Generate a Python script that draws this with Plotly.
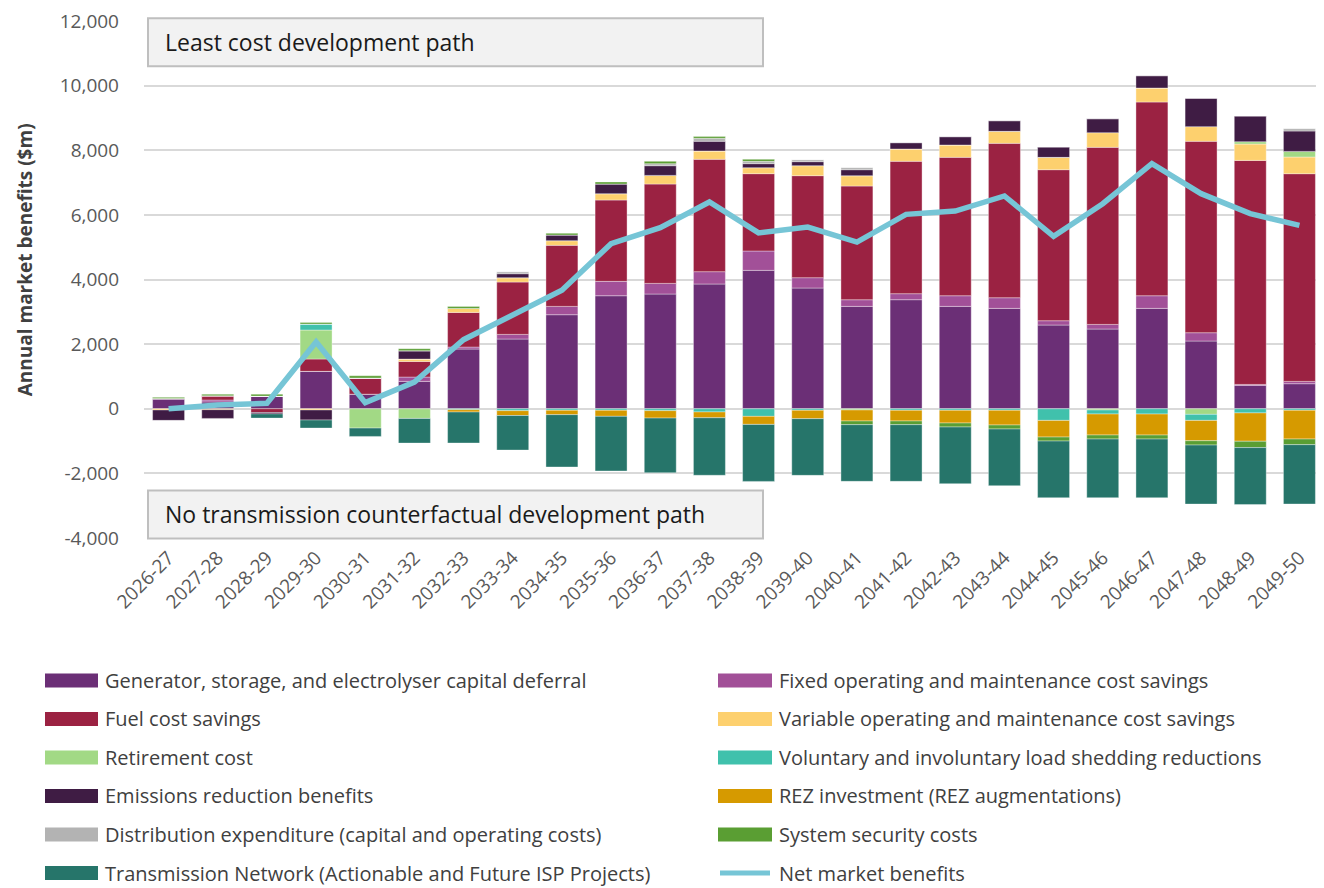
import plotly.graph_objects as go

categories = ["2026-27", "2027-28", "2028-29", "2029-30", "2030-31", "2031-32", "2032-33", "2033-34",
              "2034-35", "2035-36", "2036-37", "2037-38", "2038-39", "2039-40", "2040-41", "2041-42",
              "2042-43", "2043-44", "2044-45", "2045-46", "2046-47", "2047-48", "2048-49", "2049-50"]

generator_capex = [290, 210, 390, 1156, 450, 846, 1847, 2157, 2910, 3498, 3550, 3860,
                   4283, 3736, 3168, 3375, 3168, 3106, 2590, 2466, 3106, 2095, 722, 774]
fixed_om = [30, 60, 0, 0, 0, 134, 62, 144, 258, 444, 330, 382,
            599, 320, 206, 186, 330, 330, 134, 144, 392, 258, 30, 72]
fuel = [0, 130, -120, 382, 500, 485, 1073, 1620, 1889, 2518, 3075, 3478,
        2394, 3158, 3519, 4097, 4283, 4778, 4675, 5480, 5996, 5924, 6935, 6429]
variable_om = [-40, -30, 0, -40, 0, 72, 124, 134, 145, 196, 268, 258,
               186, 310, 320, 382, 382, 372, 382, 454, 433, 454, 506, 516]
retirement = [0, 0, 0, 898, -600, -300, 0, 0, 0, 0, 0, 0,
              0, 0, -40, 0, 0, 0, 0, -40, 0, -175, 72, 175]
load_shedding = [0, 0, 0, 186, 0, 0, -30, -60, -50, -50, -60, -100,
                 -237, -50, 0, -50, -50, -50, -361, -124, -165, -186, -130, -50]
emissions = [-320, -270, -40, -310, 0, 258, 0, 124, 175, 300, 300, 300,
             124, 124, 186, 196, 258, 330, 320, 433, 382, 877, 795, 630]
rez = [0, 0, 0, 0, 0, 0, -72, -150, -134, -186, -230, -180,
       -248, -258, -340, -330, -392, -454, -516, -650, -650, -630, -877, -888]
distribution = [0, 0, 0, 0, 0, 0, 0, 62, 0, 0, 62, 93,
                72, 62, 62, 0, 0, 0, 0, 0, 0, 0, 0, 72]
system_security = [40, 55, 60, 50, 70, 62, 62, 0, 52, 62, 72, 52,
                   62, 0, -114, -114, -124, -124, -124, -124, -124, -134, -196, -175]
transmission = [0, 0, -130, -248, -258, -764, -960, -1070, -1620, -1692, -1692, -1780,
                -1765, -1754, -1754, -1754, -1754, -1754, -1754, -1816, -1816, -1827, -1765, -1837]
net_benefits = [0, 116, 167, 2066, 188, 826, 2137, 2880, 3665, 5109, 5603, 6398,
                5441, 5625, 5160, 6017, 6120, 6586, 5336, 6347, 7585, 6657, 6038, 5676]

series_names = [
    "Generator, storage, and electrolyser capital deferral",
    "Fixed operating and maintenance cost savings",
    "Fuel cost savings",
    "Variable operating and maintenance cost savings",
    "Retirement cost",
    "Voluntary and involuntary load shedding reductions",
    "Emissions reduction benefits",
    "REZ investment (REZ augmentations)",
    "Distribution expenditure (capital and operating costs)",
    "System security costs",
    "Transmission Network (Actionable and Future ISP Projects)",
]
series_values = [generator_capex, fixed_om, fuel, variable_om, retirement, load_shedding,
                 emissions, rez, distribution, system_security, transmission]
series_colors = ["#6b2f76", "#a25098", "#9b2242", "#fdd06e", "#a2d985", "#40c1ac",
                 "#3f1c44", "#d69a00", "#b3b3b3", "#5a9e33", "#26756a"]
net_name = "Net market benefits"
net_color = "#76c5d6"

y_tick_vals = [-4000, -2000, 0, 2000, 4000, 6000, 8000, 10000, 12000]
y_tick_text = ["-4,000", "-2,000", "0", "2,000", "4,000", "6,000", "8,000", "10,000", "12,000"]

FONT = "Open Sans"
OFF = 8  # page body margin
W, H = 1316, 880
PLOT_L, PLOT_R, PLOT_T, PLOT_B = 144, 1324, 20.8, 537.6  # page pixel coords
ML = PLOT_L - OFF
MR = 0
MT = PLOT_T - OFF
MB = H - (PLOT_B - OFF)
PW, PH = W - ML - MR, H - MT - MB


def px(x):
    return (x - PLOT_L) / PW


def py(y):
    return (PLOT_B - y) / PH


fig = go.Figure()
for name, vals, col in zip(series_names, series_values, series_colors):
    fig.add_trace(go.Bar(x=categories, y=vals, name=name, marker_color=col,
                         marker_line=dict(color="rgba(255,255,255,0.45)", width=0.8),
                         showlegend=False))
fig.add_trace(go.Scatter(x=categories, y=net_benefits, name=net_name, mode="lines",
                         line=dict(color=net_color, width=5.5), showlegend=False))

shapes = []
annotations = []

# Scenario boxes
for text, y0, y1 in [("Least cost development path", 18, 66),
                     ("No transmission counterfactual development path", 490, 538)]:
    shapes.append(dict(type="rect", xref="paper", yref="paper", x0=px(148), x1=px(763),
                       y0=py(y1), y1=py(y0), fillcolor="#f2f2f2",
                       line=dict(color="#bfbfbf", width=2), layer="above"))
    annotations.append(dict(text=text, xref="paper", yref="paper", x=px(163), y=py((y0 + y1) / 2),
                            xanchor="left", yanchor="middle", showarrow=False,
                            font=dict(family=FONT, size=23, color="#1a1a1a")))

# Y axis title
annotations.append(dict(text="<b>Annual market benefits ($m)</b>", xref="paper", yref="paper",
                        x=px(25), y=py(259), textangle=-90, showarrow=False,
                        xanchor="center", yanchor="middle",
                        font=dict(family=FONT, size=19, color="#404040")))

# Manual legend (two columns, row-wise order)
legend_names = series_names + [net_name]
legend_colors = series_colors + [net_color]
row_y = [680, 718.5, 757, 795.5, 834, 872.5]
col_x = [(45, 98, 103), (718, 772, 777)]
for i, (nm, col) in enumerate(zip(legend_names, legend_colors)):
    r, c = divmod(i, 2)
    x0, x1, tx = col_x[c]
    yc = row_y[r]
    if nm == net_name:
        shapes.append(dict(type="line", xref="paper", yref="paper", x0=px(x0 + 2), x1=px(x1 - 2),
                           y0=py(yc), y1=py(yc), line=dict(color=col, width=5)))
    else:
        shapes.append(dict(type="rect", xref="paper", yref="paper", x0=px(x0), x1=px(x1),
                           y0=py(yc + 7), y1=py(yc - 7), fillcolor=col, line=dict(width=0)))
    annotations.append(dict(text=nm, xref="paper", yref="paper", x=px(tx), y=py(yc),
                            xanchor="left", yanchor="middle", showarrow=False,
                            font=dict(family=FONT, size=20, color="#404040")))

fig.update_layout(
    width=W, height=H,
    margin=dict(l=ML, r=MR, t=MT, b=MB, pad=0),
    barmode="relative", bargap=0.35,
    plot_bgcolor="white", paper_bgcolor="white",
    font=dict(family=FONT, color="#595959"),
    shapes=shapes, annotations=annotations,
    showlegend=False,
)
fig.update_xaxes(type="category", tickangle=-45, tickfont=dict(family=FONT, size=19, color="#595959"),
                 showgrid=False, showline=False, ticks="", ticklabelstandoff=4)
fig.update_yaxes(range=[-4002, 12002], tickvals=y_tick_vals, ticktext=y_tick_text,
                 tickfont=dict(family=FONT, size=19, color="#595959"),
                 showgrid=True, gridcolor="#d9d9d9", gridwidth=2, zeroline=False,
                 showline=False, ticks="", ticklabelstandoff=24, ticklabeloverflow="allow")

fig.write_html("out.html")
